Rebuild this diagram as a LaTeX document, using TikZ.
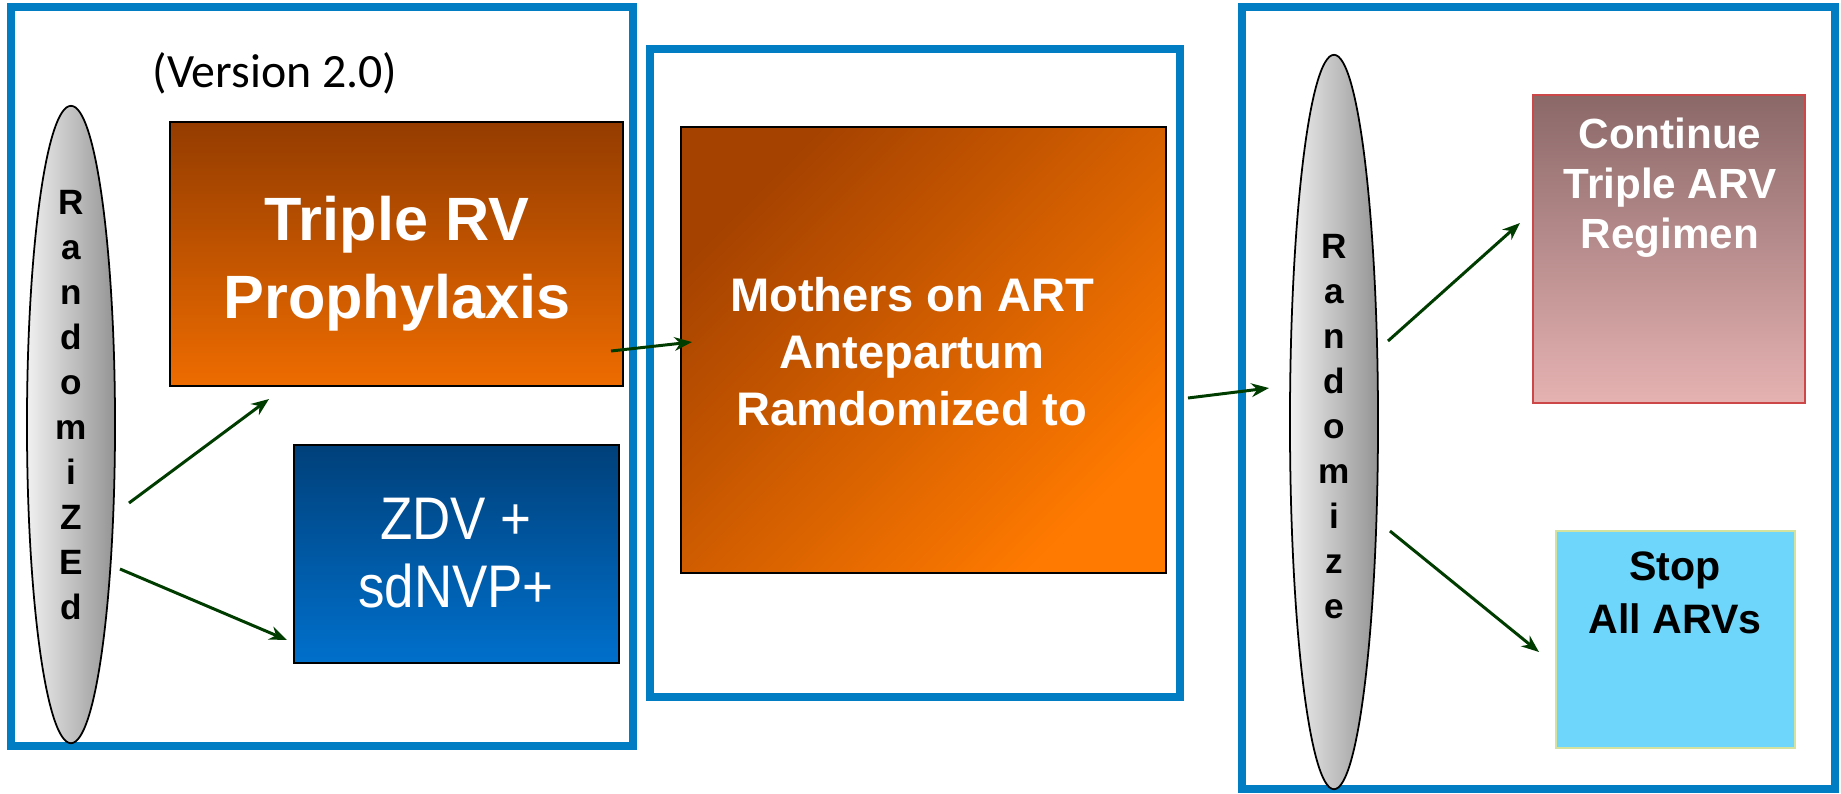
\documentclass[tikz,border=0pt]{standalone}
\usepackage{fontspec}
\setmainfont{Liberation Sans}
\newfontfamily\versionfont{Carlito}
\newfontfamily\narrowfont[FakeStretch=0.88]{Liberation Sans}
\usepackage{tikz}
\usetikzlibrary{arrows.meta,shapes.geometric,positioning}
\usepackage{xcolor}
\definecolor{panelblue}{RGB}{0,125,195}
\definecolor{arrowgreen}{RGB}{0,60,0}
\definecolor{rvtop}{RGB}{148,60,0}
\definecolor{rvbottom}{RGB}{238,108,0}
\definecolor{zdvtop}{RGB}{0,64,122}
\definecolor{zdvbottom}{RGB}{0,112,204}
\definecolor{mothtop}{RGB}{165,66,0}
\definecolor{mothbottom}{RGB}{255,122,0}
\definecolor{conttop}{RGB}{139,104,104}
\definecolor{contbottom}{RGB}{230,178,178}
\definecolor{contline}{RGB}{204,72,72}
\definecolor{stopfill}{RGB}{109,214,250}
\definecolor{stopline}{RGB}{212,226,160}
\definecolor{spinleft}{RGB}{240,240,240}
\definecolor{spinright}{RGB}{148,148,148}
\tikzstyle{panel} = [line width=2.3pt, draw=panelblue]
\tikzstyle{stagebox} = [rectangle, inner sep=0pt, outer sep=0pt, draw=black, line width=0.6pt]
\tikzstyle{spindle} = [ellipse, inner sep=0pt, outer sep=0pt, draw=black, line width=0.5pt, left color=spinleft, right color=spinright]
\tikzstyle{vletters} = [align=center, inner sep=0pt, font=\bfseries\fontsize{10}{12.8}\selectfont]
\tikzstyle{linkarrow} = [line width=0.85pt, ->, >={Stealth[length=5pt,width=3.9pt]}, color=arrowgreen]

\begin{document}
\begin{tikzpicture}[x=0.01cm, y=-0.01cm]
\useasboundingbox (0,0) rectangle (1841,793);

% Frames
\draw[panel] (11,7) rectangle (633,746);
\draw[panel] (650,49) rectangle (1180,697);
\draw[panel] (1242,7) rectangle (1835,789);

\node[font=\versionfont\fontsize{13.6}{15}\selectfont] (version) at (275,73) {(Version 2.0)};

% Randomized spindles
\node[spindle, minimum width=0.88cm, minimum height=6.37cm] (randL) at (71,424.5) {};
\node[vletters] (randLtext) at (71,405.5) {R\\a\\n\\d\\o\\m\\i\\Z\\E\\d};
\node[spindle, minimum width=0.88cm, minimum height=7.34cm] (randR) at (1334,422) {};
\node[vletters] (randRtext) at (1334,427) {R\\a\\n\\d\\o\\m\\i\\z\\e};

% Boxes
\node[stagebox, minimum width=4.53cm, minimum height=2.64cm, top color=rvtop, bottom color=rvbottom] (triple) at (396.5,254) {};
\node[align=center, inner sep=0pt, text=white, font=\bfseries\fontsize{17.4}{22.2}\selectfont] (tripletext) at (397,264) {Triple RV\\Prophylaxis};

\node[stagebox, minimum width=3.25cm, minimum height=2.18cm, top color=zdvtop, bottom color=zdvbottom] (zdv) at (456.5,554) {};
\node[align=center, inner sep=0pt, text=white, font=\narrowfont\fontsize{17.1}{19.3}\selectfont] (zdvtext) at (456,553.5) {ZDV +\\sdNVP+};

\node[stagebox, minimum width=4.85cm, minimum height=4.46cm, top color=mothtop, bottom color=mothbottom, shading angle=45] (mothers) at (923.5,350) {};
\node[align=center, inner sep=0pt, text=white, font=\bfseries\fontsize{13.4}{16.2}\selectfont] (motherstext) at (912,352) {Mothers on ART\\Antepartum\\Ramdomized to};

\node[stagebox, draw=contline, minimum width=2.72cm, minimum height=3.08cm, top color=conttop, bottom color=contbottom] (continue) at (1669,249) {};
\node[align=center, inner sep=0pt, text=white, font=\bfseries\fontsize{12}{14.2}\selectfont] (continuetext) at (1670,188) {Continue\\Triple ARV\\Regimen};

\node[stagebox, draw=stopline, fill=stopfill, minimum width=2.38cm, minimum height=2.17cm] (stop) at (1675.5,639.5) {};
\node[align=center, inner sep=0pt, text=black, font=\bfseries\fontsize{11.7}{15}\selectfont] (stoptext) at (1675,593) {Stop\\All ARVs};

% Arrow ends
\coordinate (fromRandL1) at (129,503);
\coordinate (toTriple) at (269,399);
\coordinate (fromRandL2) at (120,569);
\coordinate (toZdv) at (287,640);
\coordinate (fromTriple) at (611,351);
\coordinate (toMothers) at (692,342);
\coordinate (fromMothers) at (1188,398);
\coordinate (toRandR) at (1269,388);
\coordinate (fromRandR1) at (1388,341);
\coordinate (toContinue) at (1520,223);
\coordinate (fromRandR2) at (1390,531);
\coordinate (toStop) at (1539,652);

% Arrows
\draw[linkarrow] (fromRandL1) -- (toTriple);
\draw[linkarrow] (fromRandL2) -- (toZdv);
\draw[linkarrow] (fromTriple) -- (toMothers);
\draw[linkarrow] (fromMothers) -- (toRandR);
\draw[linkarrow] (fromRandR1) -- (toContinue);
\draw[linkarrow] (fromRandR2) -- (toStop);
\end{tikzpicture}
\end{document}
